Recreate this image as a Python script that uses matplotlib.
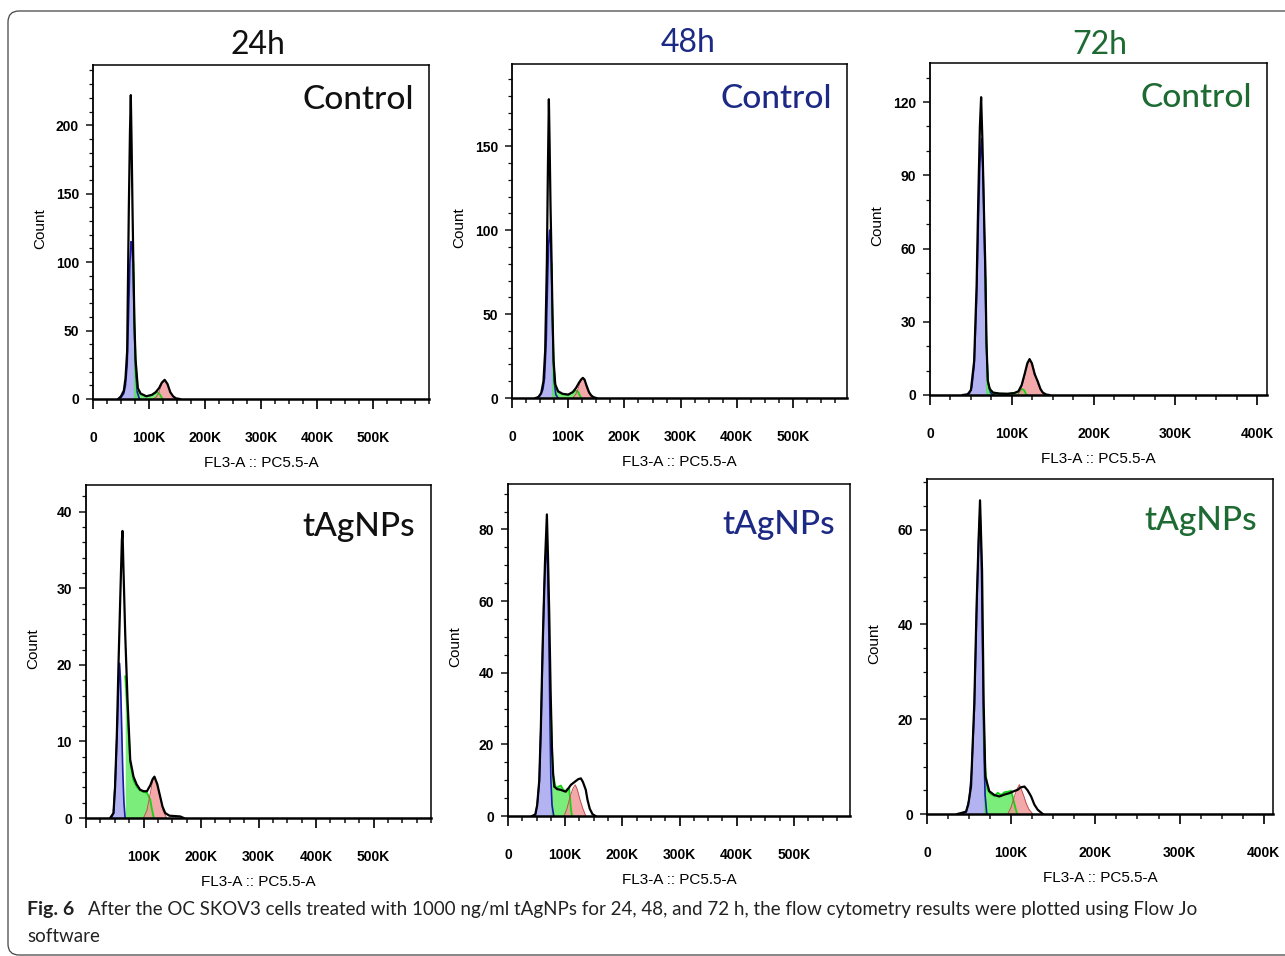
import numpy as np
import matplotlib.pyplot as plt
from matplotlib.patches import FancyBboxPatch
from matplotlib.transforms import IdentityTransform
from matplotlib.ticker import MultipleLocator

W, H = 1285, 956

# --- data: (FL3-A in K, Count) ---
ctrl24_total = [(45, 0), (50, 2), (55, 6), (58, 15), (61, 35), (64, 140), (66, 195), (67.5, 222),
                (69, 185), (70.5, 140), (72, 101), (74, 55), (76, 29), (80, 8), (85, 4), (95, 2),
                (105, 3), (112, 5), (118, 8), (123, 12), (128, 14), (133, 11), (138, 5), (143, 2),
                (148, 0.5), (155, 0)]
ctrl24_g1 = [(45, 0), (50, 1), (55, 4), (58, 10), (61, 25), (64, 70), (66, 100), (68, 115), (70, 112),
             (72, 90), (74, 50), (76, 22), (79, 5), (83, 0)]
ctrl24_s = [(72, 0), (72, 100), (74, 54), (76, 28), (80, 7), (85, 3.5), (95, 2), (105, 2.8),
            (112, 4.5), (116, 5), (120, 3), (124, 0)]
ctrl24_g2 = [(108, 0), (113, 1.5), (118, 5), (123, 11), (128, 14), (133, 10.5), (138, 5), (143, 1.5), (148, 0)]

ctrl48_total = [(42, 0), (47, 0.5), (52, 3), (56, 10), (59, 28), (62, 80), (64, 140), (65.6, 178),
                (67, 150), (68.5, 115), (70.4, 82), (72, 50), (74, 22), (77, 8), (82, 4), (90, 2.5),
                (100, 2), (108, 3.5), (114, 6), (119, 9), (123, 11), (126, 12), (129, 11), (133, 7),
                (137, 3.5), (141, 1.5), (145, 0.5), (150, 0)]
ctrl48_g1 = [(44, 0), (50, 1.5), (55, 5), (58, 12), (61, 35), (63, 65), (65, 90), (67, 100), (69, 92),
             (71, 65), (73, 30), (75, 10), (78, 2), (82, 0)]
ctrl48_s = [(70.4, 0), (70.4, 80), (72, 48), (74, 21), (77, 7.5), (82, 3.5), (90, 2.2), (100, 2),
            (108, 3.2), (113, 4.5), (117, 4), (120, 2), (123, 0)]
ctrl48_g2 = [(108, 0), (113, 2), (117, 5), (121, 9), (126, 12), (130, 9.5), (134, 5), (138, 2), (143, 0)]

ctrl72_total = [(40, 0), (46, 0.3), (50, 2), (54, 14), (57, 45), (59, 80), (61, 110), (62.5, 122),
                (64, 105), (66, 75), (67.8, 50), (69, 22), (70.6, 6), (73, 2.5), (77, 1), (85, 0.6),
                (95, 0.5), (103, 0.8), (108, 1.5), (112, 4), (116, 9), (119, 13), (121.7, 14.7),
                (124.5, 13), (128, 8.5), (131.8, 5.5), (135, 2.5), (137.9, 1), (142, 0.2), (146, 0)]
ctrl72_g1 = [(44, 0), (48, 0.5), (51, 3), (54, 12), (57, 40), (59, 70), (61, 95), (63, 105), (65, 90),
             (67, 55), (69, 20), (71, 5), (74, 1), (78, 0)]
ctrl72_s = [(67.8, 0), (67.8, 48), (69, 21), (70.6, 5.5), (73, 2.3), (77, 0.9), (85, 0.5), (95, 0.5),
            (103, 0.8), (108, 1.4), (112, 2.5), (115, 2), (118, 0)]
ctrl72_g2 = [(107, 0), (111, 2), (115, 6.5), (118, 11), (121.7, 14.7), (125, 13), (128.5, 8.5),
             (132, 4.5), (135.5, 1.8), (139, 0.3), (141, 0)]

tag24_total = [(42, 0), (47.8, 0.65), (50.5, 4), (53.7, 11), (56.5, 20), (59.5, 28.5), (62.4, 36.3),
               (63.5, 37.5), (65, 33), (68.2, 24), (72.2, 15.4), (76.9, 7.6), (82.6, 5.4), (88, 4.4),
               (94, 3.7), (100, 3.5), (106, 3.5), (112, 4.3), (116, 5.1), (119, 5.4), (124, 4.4),
               (129, 2.8), (133, 1.5), (137.7, 0.65), (145, 0.3), (155, 0.25), (164, 0.2), (170, 0)]
tag24_g1 = [(44, 0), (47.8, 0.6), (51, 5), (54, 11), (56.5, 17), (58.3, 20.2), (60, 18), (62, 12),
            (64, 6), (66, 2), (68, 0)]
tag24_s = [(68.2, 0), (68.2, 18.5), (72.2, 13.7), (76.9, 7.2), (82.6, 4.9), (88, 4.1), (94, 3.6),
           (100, 3.4), (106, 3.3), (111.7, 2.4), (115, 1), (118, 0)]
tag24_g2 = [(100, 0), (106, 1), (112, 3.3), (116, 4.8), (119, 5.4), (124, 4.4), (129, 2.8), (134, 1), (140, 0)]

tag48_total = [(42, 0), (47.7, 0.4), (51, 3), (54.7, 10), (57.5, 25), (60.5, 47), (64.6, 70.5),
               (68, 84.2), (70, 72), (72.1, 56.6), (74.5, 35), (76.8, 19.3), (78.8, 12), (80.9, 8.2),
               (86, 7.5), (92.5, 7.3), (97, 7.0), (101, 6.8), (106, 7.8), (110, 8.7), (118, 9.7),
               (123, 10.3), (127.4, 10.5), (131, 9.5), (136, 7.3), (139, 4.5), (143, 2), (147.8, 0.5), (153, 0)]
tag48_g1 = [(44, 0), (48, 0.5), (51, 3), (54.7, 9.5), (57.5, 24), (60.5, 45), (63, 62), (65.5, 72),
            (67.5, 75), (69.5, 68), (71.5, 50), (73.5, 25), (75, 10), (77, 3), (80, 0)]
tag48_s = [(75, 0), (75, 29.6), (76.8, 19), (78.8, 11.5), (83.8, 7.7), (88, 8.2), (92.5, 8.5), (97, 7.2),
           (101, 7.0), (104, 7.6), (107, 7.7), (110, 2), (112, 0)]
tag48_g2 = [(98, 0), (103, 2), (108, 5), (113, 7.5), (117.5, 8.7), (121, 7.5), (126, 4.5), (131, 2), (136, 0)]

tag72_total = [(36, 0), (40.4, 0.2), (46.4, 0.5), (49, 2), (52.3, 5.8), (56.2, 23.4), (59, 44.4),
               (61.4, 58.4), (63, 66.2), (65.4, 51.4), (67.3, 23.4), (69.3, 7.9), (74, 4.8), (80, 4.0),
               (86, 3.7), (92, 4.1), (97.9, 4.4), (103, 4.8), (107.7, 5.1), (111, 5.6), (115.7, 5.8),
               (119.5, 5), (123.7, 3.7), (127.5, 2), (131.5, 0.9), (137.5, 0)]
tag72_g1 = [(42, 0), (46.4, 0.4), (50, 3), (53, 9), (56.2, 22), (59, 43), (61.4, 58), (63, 64),
            (64.5, 55), (66, 35), (67.5, 15), (69, 4), (71, 0)]
tag72_s = [(67, 0), (67, 22), (69.3, 9.3), (72, 5.1), (76, 4.2), (80, 3.8), (84, 4.5), (88, 4.0),
           (92, 4.6), (96, 4.7), (100, 4.9), (104, 2), (107, 0)]
tag72_g2 = [(96, 0), (100, 1.5), (104, 3.8), (107, 5.3), (109.8, 6.2), (112, 5.2), (115, 3.8),
            (117.7, 2.3), (121, 1), (125.6, 0)]

col_titles = ["24h", "48h", "72h"]
col_colors = ["#111111", "#1c2a86", "#1d6a32"]
row_labels = ["Control", "tAgNPs"]
x_label = "FL3-A :: PC5.5-A"
y_label = "Count"

# y ranges and ticks per panel (major step, minor step)
ylims = [244, 199, 136, 43.5, 92.7, 70.7]
ymajor = [50, 50, 30, 10, 20, 20]
yminor = [10, 10, 10, 2, 5, 5]
xmaxs = [600, 596, 412, 600, 598, 411]

curves = [
    (ctrl24_total, ctrl24_g1, ctrl24_s, ctrl24_g2),
    (ctrl48_total, ctrl48_g1, ctrl48_s, ctrl48_g2),
    (ctrl72_total, ctrl72_g1, ctrl72_s, ctrl72_g2),
    (tag24_total, tag24_g1, tag24_s, tag24_g2),
    (tag48_total, tag48_g1, tag48_s, tag48_g2),
    (tag72_total, tag72_g1, tag72_s, tag72_g2),
]

# panel frames in pixels: left, top, right, bottom
frames = [(93, 65, 429, 399), (512, 64, 847, 398), (930, 63, 1267, 395),
          (86, 485, 431, 818), (508, 484, 850, 816), (927, 479, 1273, 814)]

fig = plt.figure(figsize=(W / 100, H / 100), dpi=100)
fig.patch.set_facecolor("white")


def fx(px):
    return px / W


def fy(py):
    return 1 - py / H


border = FancyBboxPatch((8, 1), 1320, 944, boxstyle="round,pad=0,rounding_size=11",
                        transform=IdentityTransform(), fill=False, ec="#444444", lw=0.9)
fig.add_artist(border)

for i, (frame, data) in enumerate(zip(frames, curves)):
    l, t, r, b = frame
    ax = fig.add_axes([fx(l), fy(b), (r - l) / W, (b - t) / H])
    total, g1, s, g2 = data

    x, y = np.array(g1).T
    ax.fill_between(x, 0, y, color="#a6a6f0", alpha=0.85, lw=0)
    ax.plot(x, y, color="#1a1aa0", lw=1.2)
    x, y = np.array(s).T
    ax.fill_between(x, 0, y, color="#4fe84f", alpha=0.75, lw=0)
    ax.plot(x[1:], y[1:], color="#14d414", lw=1.3)
    x, y = np.array(g2).T
    ax.fill_between(x, 0, y, color="#f29a9a", alpha=0.85, lw=0)
    ax.plot(x, y, color="#c25050", lw=0.7)
    x, y = np.array(total).T
    ax.plot(x, y, color="black", lw=1.6)

    ax.set_xlim(0, xmaxs[i])
    ax.set_ylim(0, ylims[i])

    xt = np.arange(0, xmaxs[i] - 5, 100)
    xlab = ["0" if v == 0 else f"{int(v)}K" for v in xt]
    if i == 3:
        xlab[0] = ""
    ax.set_xticks(xt, xlab, fontsize=10, fontweight="bold", family="Liberation Sans")
    ax.xaxis.set_minor_locator(MultipleLocator(25))
    yt = np.arange(0, ylims[i], ymajor[i])
    ax.set_yticks(yt, [f"{int(v)}" for v in yt], fontsize=10, fontweight="bold",
                  family="Liberation Sans")
    ax.yaxis.set_minor_locator(MultipleLocator(yminor[i]))

    ax.tick_params(axis="x", which="major", direction="out", length=7, width=1.3, pad=16, color="#111111")
    ax.tick_params(axis="x", which="minor", direction="out", length=3.5, width=1.1, color="#111111")
    ax.tick_params(axis="y", which="major", direction="out", length=5, width=1.1, pad=5, color="#111111")
    ax.tick_params(axis="y", which="minor", direction="out", length=3, width=0.9, color="#111111")
    for side in ["top", "right"]:
        ax.spines[side].set_linewidth(1.1)
    ax.spines["left"].set_linewidth(1.3)
    ax.spines["bottom"].set_linewidth(1.8)

    # axis titles
    fig.text(fx((l + r) / 2), fy(b + 64), x_label, ha="center", va="center",
             fontsize=11, family="Liberation Sans")
    fig.text(fx(l - 53), fy((t + b) / 2 - 3), y_label, ha="center", va="center",
             rotation=90, fontsize=11, family="Liberation Sans")

    col = i % 3
    row = i // 3
    ax.text(0.955, 0.895 if row == 0 else 0.875, row_labels[row], transform=ax.transAxes,
            ha="right", va="center", fontsize=24, color=col_colors[col], family="Lato",
            fontweight="medium")

# column headings
for cx, cy, txt, c in zip([258, 688, 1100], [45, 43, 45], col_titles, col_colors):
    fig.text(fx(cx), fy(cy), txt, ha="center", va="center", fontsize=23, color=c,
             family=["Liberation Sans Narrow", "Lato"])

# caption
fig.text(fx(27), fy(909), "Fig. 6", ha="left", va="center", fontsize=14,
         fontweight="bold", family="Lato", color="#222222")
fig.text(fx(88), fy(909),
         "After the OC SKOV3 cells treated with 1000 ng/ml tAgNPs for 24, 48, and 72 h, "
         "the flow cytometry results were plotted using Flow Jo",
         ha="left", va="center", fontsize=13.5, family="Lato", color="#222222")
fig.text(fx(27), fy(936), "software", ha="left", va="center", fontsize=13.5,
         family="Lato", color="#222222")

fig.savefig("out.png", dpi=100)
